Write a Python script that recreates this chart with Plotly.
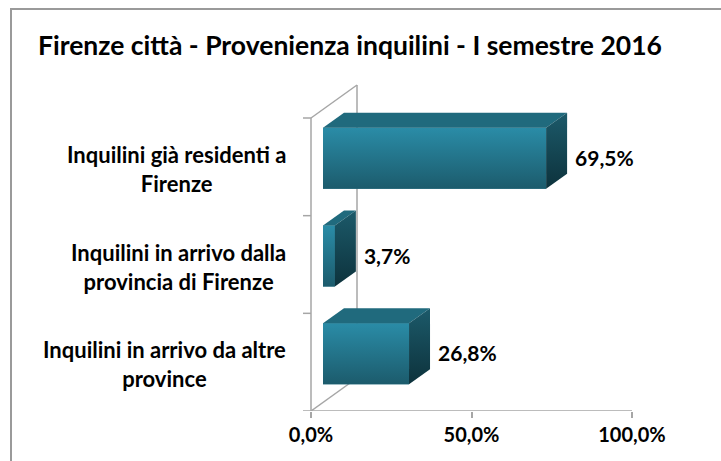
import plotly.graph_objects as go

# ---- data ----
categories = [
    "Inquilini già residenti a<br>Firenze",
    "Inquilini in arrivo dalla<br>provincia di Firenze",
    "Inquilini in arrivo da altre<br>province",
]
values = [69.5, 3.7, 26.8]
tick_values = [0, 50, 100]
tick_labels = ["0,0%", "50,0%", "100,0%"]
title_text = "Firenze città - Provenienza inquilini - I semestre 2016"

# ---- layout geometry (pixel anchors) ----
W, H = 721, 461
X0_PX, X100_PX = 311, 632          # front-plane value axis
PX_PER_UNIT = (X100_PX - X0_PX) / 100.0
TOP_PX, BOT_PX = 118, 411           # front plane category range
BAND_PX = (BOT_PX - TOP_PX) / 3.0

def xu(px):  # pixel distance -> x units
    return px / PX_PER_UNIT

def yu(px):  # pixel distance -> category units
    return px / BAND_PX

x_range = [xu(0 - X0_PX), xu(W - X0_PX)]
y_dom = [1 - BOT_PX / H, 1]
y_range = [2.5, -0.5 - yu(TOP_PX)]

# 3D style offsets
WALL_DX, WALL_DY = xu(46), yu(33)
BAR_BASE = xu(12)
BAR_SHIFT = yu(8.5)
BAR_W = yu(61)
BAR_DX, BAR_DY = xu(21), yu(15)

FONT = "Lato"
WALL_COL = "#a6a6a6"

fig = go.Figure()

n = len(categories)
ypos = list(range(n))
bar_centers = [y - BAR_SHIFT for y in ypos]

# front faces as bars
fig.add_trace(go.Bar(
    x=values, y=bar_centers, base=[BAR_BASE] * n, orientation="h",
    width=BAR_W, marker=dict(color="#23768c", line=dict(width=0)),
    hoverinfo="skip", showlegend=False,
))

for v, yc in zip(values, bar_centers):
    x1, x2 = BAR_BASE, BAR_BASE + v
    yt, yb = yc - BAR_W / 2, yc + BAR_W / 2
    # gradient overlay on front face
    fig.add_trace(go.Scatter(
        x=[x1, x2, x2, x1, x1], y=[yt, yt, yb, yb, yt], mode="lines",
        line=dict(width=0), fill="toself",
        fillgradient=dict(type="vertical", colorscale=[[0, "#1c5b6c"], [1, "#2a8ca7"]]),
        hoverinfo="skip", showlegend=False,
    ))
    # top face
    fig.add_trace(go.Scatter(
        x=[x1, x2, x2 + BAR_DX, x1 + BAR_DX, x1],
        y=[yt, yt, yt - BAR_DY, yt - BAR_DY, yt], mode="lines",
        line=dict(width=0), fill="toself", fillcolor="#206a7d",
        hoverinfo="skip", showlegend=False,
    ))
    # side face
    fig.add_trace(go.Scatter(
        x=[x2, x2 + BAR_DX, x2 + BAR_DX, x2, x2],
        y=[yt, yt - BAR_DY, yb - BAR_DY, yb, yt], mode="lines",
        line=dict(width=0), fill="toself",
        fillgradient=dict(type="vertical", colorscale=[[0, "#0d323c"], [1, "#1c5a6a"]]),
        hoverinfo="skip", showlegend=False,
    ))

# value labels
fig.add_trace(go.Scatter(
    x=[BAR_BASE + v + BAR_DX + xu(8) for v in values],
    y=[y - yu(6) for y in ypos],
    mode="text",
    text=[f"{v:.1f}%".replace(".", ",") for v in values],
    textposition="middle right",
    textfont=dict(family=FONT, size=21, color="#000000", weight="bold"),
    cliponaxis=False, hoverinfo="skip", showlegend=False,
))

shapes = []
line = dict(color=WALL_COL, width=1.5)
shapes.append(dict(type="line", xref="x", yref="y", x0=0, x1=0, y0=-0.5, y1=2.5, line=line))
for b in [-0.5, 0.5, 1.5, 2.5]:
    shapes.append(dict(type="line", xref="x", yref="y", x0=-xu(8), x1=0, y0=b, y1=b, line=line))
for b in [-0.5, 2.5]:
    shapes.append(dict(type="line", xref="x", yref="y", x0=0, x1=WALL_DX, y0=b, y1=b - WALL_DY, line=line))
shapes.append(dict(type="line", xref="x", yref="y", x0=WALL_DX, x1=WALL_DX,
                   y0=-0.5 - WALL_DY, y1=2.5 - WALL_DY, line=line))
shapes.append(dict(type="line", xref="x", yref="y", x0=0, x1=tick_values[-1], y0=2.5, y1=2.5, line=line))
for s in shapes:
    s["layer"] = "below"
shapes.append(dict(type="rect", xref="paper", yref="paper", x0=11 / W, x1=1.02, y0=1 - 9 / H, y1=-0.02,
                   line=dict(color="#9a9a9a", width=2), layer="below"))

annotations = []
for c, y in zip(categories, ypos):
    annotations.append(dict(
        x=288 / W, xref="paper", xanchor="right", y=y + yu(2), yref="y", yanchor="middle",
        text=c, showarrow=False, align="center",
        font=dict(family=FONT, size=22, color="#000000", weight="bold"),
    ))
annotations.append(dict(
    x=350 / W, xref="paper", xanchor="center", y=1 - 45 / H, yref="paper", yanchor="middle",
    text=title_text, showarrow=False,
    font=dict(family=FONT, size=26.5, color="#000000", weight="bold"),
))

fig.update_layout(
    width=W, height=H,
    margin=dict(l=0, r=0, t=0, b=0),
    paper_bgcolor="white", plot_bgcolor="rgba(0,0,0,0)",
    separators=",.",
    barmode="overlay",
    showlegend=False,
    hovermode=False,
    shapes=shapes,
    annotations=annotations,
    xaxis=dict(
        domain=[0, 1], range=x_range, showgrid=False, zeroline=False, showline=False,
        tickmode="array", tickvals=tick_values, ticktext=tick_labels,
        ticks="outside", ticklen=6, tickwidth=1.5, tickcolor=WALL_COL,
        tickfont=dict(family=FONT, size=20, color="#000000", weight="bold"),
        fixedrange=True,
    ),
    yaxis=dict(domain=y_dom, range=y_range, visible=False, fixedrange=True),
)

fig.write_html("out.html", config={"displayModeBar": False},
               post_script="document.body.style.margin='0';")
